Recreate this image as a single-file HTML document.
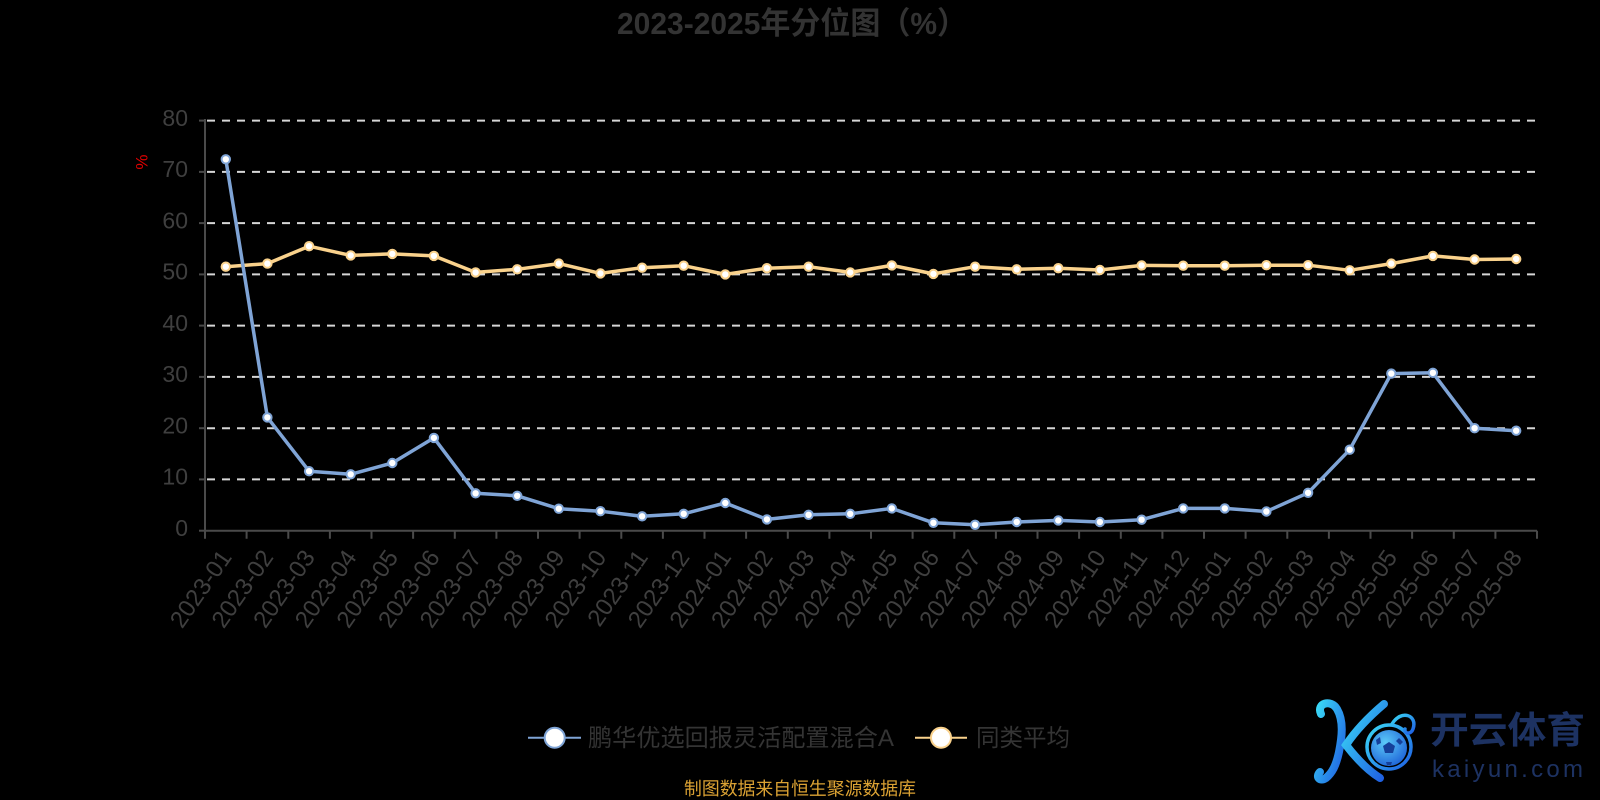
<!DOCTYPE html>
<html>
<head>
<meta charset="utf-8">
<style>
  html, body { margin:0; padding:0; background:#000; }
  body { width:1600px; height:800px; overflow:hidden; }
  svg { display:block; }
  text { font-family: "Liberation Sans", "Noto Sans CJK SC", sans-serif; }
</style>
</head>
<body>
<svg width="1600" height="800" viewBox="0 0 1600 800" xmlns="http://www.w3.org/2000/svg">
  <defs>
    <linearGradient id="lg" x1="0" y1="0" x2="1" y2="1">
      <stop offset="0" stop-color="#3ad8f6"/>
      <stop offset="1" stop-color="#1f5fe2"/>
    </linearGradient>
    <radialGradient id="ball" cx="0.4" cy="0.35" r="0.7">
      <stop offset="0" stop-color="#5ccaf8"/>
      <stop offset="1" stop-color="#1e64d8"/>
    </radialGradient>
  </defs>
  <rect width="1600" height="800" fill="#000"/>

  <!-- Title -->
  <text x="617" y="34" font-size="31" font-weight="bold" fill="#333" textLength="350" lengthAdjust="spacingAndGlyphs">2023-2025年分位图（%）</text>

  <!-- Grid lines -->
  <g stroke="#d6d6d6" stroke-width="2" stroke-dasharray="8 7" fill="none">
    <line x1="207" y1="120.6" x2="1537" y2="120.6"/>
    <line x1="207" y1="171.9" x2="1537" y2="171.9"/>
    <line x1="207" y1="223.1" x2="1537" y2="223.1"/>
    <line x1="207" y1="274.4" x2="1537" y2="274.4"/>
    <line x1="207" y1="325.6" x2="1537" y2="325.6"/>
    <line x1="207" y1="376.9" x2="1537" y2="376.9"/>
    <line x1="207" y1="428.2" x2="1537" y2="428.2"/>
    <line x1="207" y1="479.4" x2="1537" y2="479.4"/>
  </g>

  <!-- Axes -->
  <g stroke="#4a4a4a" stroke-width="2" fill="none">
    <line x1="205" y1="119" x2="205" y2="531"/>
    <line x1="204" y1="530.7" x2="1537" y2="530.7"/>
    <line x1="199" y1="120.6" x2="205" y2="120.6"/>
    <line x1="199" y1="171.9" x2="205" y2="171.9"/>
    <line x1="199" y1="223.1" x2="205" y2="223.1"/>
    <line x1="199" y1="274.4" x2="205" y2="274.4"/>
    <line x1="199" y1="325.6" x2="205" y2="325.6"/>
    <line x1="199" y1="376.9" x2="205" y2="376.9"/>
    <line x1="199" y1="428.2" x2="205" y2="428.2"/>
    <line x1="199" y1="479.4" x2="205" y2="479.4"/>
    <line x1="199" y1="530.7" x2="205" y2="530.7"/>
    <path d="M205 530.7v8 M246.6 530.7v8 M288.3 530.7v8 M329.9 530.7v8 M371.5 530.7v8 M413.1 530.7v8 M454.8 530.7v8 M496.4 530.7v8 M538 530.7v8 M579.6 530.7v8 M621.3 530.7v8 M662.9 530.7v8 M704.5 530.7v8 M746.1 530.7v8 M787.8 530.7v8 M829.4 530.7v8 M871 530.7v8 M912.6 530.7v8 M954.3 530.7v8 M995.9 530.7v8 M1037.5 530.7v8 M1079.1 530.7v8 M1120.8 530.7v8 M1162.4 530.7v8 M1204 530.7v8 M1245.6 530.7v8 M1287.3 530.7v8 M1328.9 530.7v8 M1370.5 530.7v8 M1412.1 530.7v8 M1453.8 530.7v8 M1495.4 530.7v8 M1537 530.7v8"/>
  </g>

  <!-- Y labels -->
  <g font-size="23" fill="#3f3f3f" text-anchor="end">
    <text x="188" y="126">80</text>
    <text x="188" y="177.2">70</text>
    <text x="188" y="228.4">60</text>
    <text x="188" y="279.7">50</text>
    <text x="188" y="330.9">40</text>
    <text x="188" y="382.2">30</text>
    <text x="188" y="433.5">20</text>
    <text x="188" y="484.7">10</text>
    <text x="188" y="536">0</text>
  </g>
  <text x="0" y="0" font-size="17" fill="#e00000" text-anchor="middle" dominant-baseline="central" transform="translate(142,162) rotate(-90)">%</text>

  <!-- X labels -->
  <g font-size="24" fill="#3f3f3f" text-anchor="end" dominant-baseline="central">
    <text transform="translate(226.5,553) rotate(-55)">2023-01</text>
    <text transform="translate(268.1,553) rotate(-55)">2023-02</text>
    <text transform="translate(309.8,553) rotate(-55)">2023-03</text>
    <text transform="translate(351.4,553) rotate(-55)">2023-04</text>
    <text transform="translate(393,553) rotate(-55)">2023-05</text>
    <text transform="translate(434.6,553) rotate(-55)">2023-06</text>
    <text transform="translate(476.3,553) rotate(-55)">2023-07</text>
    <text transform="translate(517.9,553) rotate(-55)">2023-08</text>
    <text transform="translate(559.5,553) rotate(-55)">2023-09</text>
    <text transform="translate(601.1,553) rotate(-55)">2023-10</text>
    <text transform="translate(642.8,553) rotate(-55)">2023-11</text>
    <text transform="translate(684.4,553) rotate(-55)">2023-12</text>
    <text transform="translate(726,553) rotate(-55)">2024-01</text>
    <text transform="translate(767.6,553) rotate(-55)">2024-02</text>
    <text transform="translate(809.3,553) rotate(-55)">2024-03</text>
    <text transform="translate(850.9,553) rotate(-55)">2024-04</text>
    <text transform="translate(892.5,553) rotate(-55)">2024-05</text>
    <text transform="translate(934.1,553) rotate(-55)">2024-06</text>
    <text transform="translate(975.8,553) rotate(-55)">2024-07</text>
    <text transform="translate(1017.4,553) rotate(-55)">2024-08</text>
    <text transform="translate(1059,553) rotate(-55)">2024-09</text>
    <text transform="translate(1100.6,553) rotate(-55)">2024-10</text>
    <text transform="translate(1142.3,553) rotate(-55)">2024-11</text>
    <text transform="translate(1183.9,553) rotate(-55)">2024-12</text>
    <text transform="translate(1225.5,553) rotate(-55)">2025-01</text>
    <text transform="translate(1267.1,553) rotate(-55)">2025-02</text>
    <text transform="translate(1308.8,553) rotate(-55)">2025-03</text>
    <text transform="translate(1350.4,553) rotate(-55)">2025-04</text>
    <text transform="translate(1392,553) rotate(-55)">2025-05</text>
    <text transform="translate(1433.6,553) rotate(-55)">2025-06</text>
    <text transform="translate(1475.3,553) rotate(-55)">2025-07</text>
    <text transform="translate(1516.9,553) rotate(-55)">2025-08</text>
  </g>

  <!-- Yellow series -->
  <polyline fill="none" stroke="#fad28c" stroke-width="3.5" stroke-linejoin="round" points="225.8,266.7 267.4,263.6 309.1,246.2 350.7,255.4 392.3,253.9 433.9,255.9 475.6,272.4 517.2,269.3 558.8,263.6 600.4,273.4 642.1,267.7 683.7,265.7 725.3,274.4 766.9,268.2 808.6,266.7 850.2,272.4 891.8,265.4 933.4,273.9 975.1,266.7 1016.7,269.3 1058.3,268.2 1099.9,270.0 1141.6,265.4 1183.2,265.7 1224.8,265.7 1266.4,265.2 1308.1,265.2 1349.7,270.3 1391.3,263.6 1432.9,255.9 1474.6,259.5 1516.2,259.0"/>
  <g fill="#fff" stroke="#fad28c" stroke-width="2">
    <circle cx="225.8" cy="266.7" r="4.2"/><circle cx="267.4" cy="263.6" r="4.2"/><circle cx="309.1" cy="246.2" r="4.2"/><circle cx="350.7" cy="255.4" r="4.2"/><circle cx="392.3" cy="253.9" r="4.2"/><circle cx="433.9" cy="255.9" r="4.2"/><circle cx="475.6" cy="272.4" r="4.2"/><circle cx="517.2" cy="269.3" r="4.2"/><circle cx="558.8" cy="263.6" r="4.2"/><circle cx="600.4" cy="273.4" r="4.2"/><circle cx="642.1" cy="267.7" r="4.2"/><circle cx="683.7" cy="265.7" r="4.2"/><circle cx="725.3" cy="274.4" r="4.2"/><circle cx="766.9" cy="268.2" r="4.2"/><circle cx="808.6" cy="266.7" r="4.2"/><circle cx="850.2" cy="272.4" r="4.2"/><circle cx="891.8" cy="265.4" r="4.2"/><circle cx="933.4" cy="273.9" r="4.2"/><circle cx="975.1" cy="266.7" r="4.2"/><circle cx="1016.7" cy="269.3" r="4.2"/><circle cx="1058.3" cy="268.2" r="4.2"/><circle cx="1099.9" cy="270.0" r="4.2"/><circle cx="1141.6" cy="265.4" r="4.2"/><circle cx="1183.2" cy="265.7" r="4.2"/><circle cx="1224.8" cy="265.7" r="4.2"/><circle cx="1266.4" cy="265.2" r="4.2"/><circle cx="1308.1" cy="265.2" r="4.2"/><circle cx="1349.7" cy="270.3" r="4.2"/><circle cx="1391.3" cy="263.6" r="4.2"/><circle cx="1432.9" cy="255.9" r="4.2"/><circle cx="1474.6" cy="259.5" r="4.2"/><circle cx="1516.2" cy="259.0" r="4.2"/>
  </g>

  <!-- Blue series -->
  <polyline fill="none" stroke="#7fa4d6" stroke-width="3.5" stroke-linejoin="round" points="225.8,159.3 267.4,417.4 309.1,471.2 350.7,474.3 392.3,463.0 433.9,437.9 475.6,493.3 517.2,495.8 558.8,508.7 600.4,511.2 642.1,516.3 683.7,513.8 725.3,503.0 766.9,519.4 808.6,514.8 850.2,513.8 891.8,508.4 933.4,522.8 975.1,524.8 1016.7,522.0 1058.3,520.4 1099.9,522.0 1141.6,519.7 1183.2,508.4 1224.8,508.4 1266.4,511.5 1308.1,492.8 1349.7,449.7 1391.3,373.6 1432.9,372.8 1474.6,428.2 1516.2,430.7"/>
  <g fill="#fff" stroke="#7fa4d6" stroke-width="2">
    <circle cx="225.8" cy="159.3" r="4.2"/><circle cx="267.4" cy="417.4" r="4.2"/><circle cx="309.1" cy="471.2" r="4.2"/><circle cx="350.7" cy="474.3" r="4.2"/><circle cx="392.3" cy="463.0" r="4.2"/><circle cx="433.9" cy="437.9" r="4.2"/><circle cx="475.6" cy="493.3" r="4.2"/><circle cx="517.2" cy="495.8" r="4.2"/><circle cx="558.8" cy="508.7" r="4.2"/><circle cx="600.4" cy="511.2" r="4.2"/><circle cx="642.1" cy="516.3" r="4.2"/><circle cx="683.7" cy="513.8" r="4.2"/><circle cx="725.3" cy="503.0" r="4.2"/><circle cx="766.9" cy="519.4" r="4.2"/><circle cx="808.6" cy="514.8" r="4.2"/><circle cx="850.2" cy="513.8" r="4.2"/><circle cx="891.8" cy="508.4" r="4.2"/><circle cx="933.4" cy="522.8" r="4.2"/><circle cx="975.1" cy="524.8" r="4.2"/><circle cx="1016.7" cy="522.0" r="4.2"/><circle cx="1058.3" cy="520.4" r="4.2"/><circle cx="1099.9" cy="522.0" r="4.2"/><circle cx="1141.6" cy="519.7" r="4.2"/><circle cx="1183.2" cy="508.4" r="4.2"/><circle cx="1224.8" cy="508.4" r="4.2"/><circle cx="1266.4" cy="511.5" r="4.2"/><circle cx="1308.1" cy="492.8" r="4.2"/><circle cx="1349.7" cy="449.7" r="4.2"/><circle cx="1391.3" cy="373.6" r="4.2"/><circle cx="1432.9" cy="372.8" r="4.2"/><circle cx="1474.6" cy="428.2" r="4.2"/><circle cx="1516.2" cy="430.7" r="4.2"/>
  </g>

  <!-- Legend -->
  <line x1="528" y1="737.7" x2="581" y2="737.7" stroke="#7fa4d6" stroke-width="2"/>
  <circle cx="554.7" cy="737.7" r="10" fill="#fff" stroke="#7fa4d6" stroke-width="2"/>
  <text x="588" y="746" font-size="24" fill="#343434" textLength="306" lengthAdjust="spacingAndGlyphs">鹏华优选回报灵活配置混合A</text>
  <line x1="915" y1="737.7" x2="967" y2="737.7" stroke="#fad28c" stroke-width="2"/>
  <circle cx="941" cy="737.7" r="10" fill="#fff" stroke="#fad28c" stroke-width="2"/>
  <text x="976" y="746" font-size="24" fill="#343434" textLength="94" lengthAdjust="spacingAndGlyphs">同类平均</text>

  <!-- Source -->
  <text x="684" y="795" font-size="18" fill="#dba233" textLength="232" lengthAdjust="spacingAndGlyphs">制图数据来自恒生聚源数据库</text>

  <!-- Watermark logo -->
  <g fill="none" stroke="url(#lg)" stroke-linecap="round">
    <path d="M1321,714 C1316,703 1331,699 1337,709 C1344,721 1342,737 1339,752 C1336,766 1332,773 1326,778 C1320,782 1315,777 1320,772" stroke-width="8"/>
    <path d="M1384,704 C1371,715 1356,730 1346,745 C1356,758 1367,770 1380,778" stroke-width="8"/>
    <circle cx="1389" cy="747" r="22" stroke-width="3.5"/>
    <path d="M1392,724 C1401,709 1418,715 1413,729 C1411,735 1404,734 1405,729" stroke-width="3.5"/>
  </g>
  <circle cx="1389" cy="748" r="18" fill="url(#ball)"/>
  <g fill="#15409a">
    <polygon points="1389,742 1395,746 1393,753 1385,753 1383,746"/>
    <polygon points="1376,740 1380,737 1381,743 1377,745"/>
    <polygon points="1399,738 1403,742 1400,745 1396,741"/>
    <polygon points="1386,762 1392,762 1391,765 1387,765"/>
  </g>
  <text x="1430" y="743" font-size="37" font-weight="bold" fill="#1d3262" textLength="155" lengthAdjust="spacingAndGlyphs">开云体育</text>
  <text x="1432" y="777" font-size="24" fill="#1d3262" textLength="151" lengthAdjust="spacing">kaiyun.com</text>
</svg>
</body>
</html>
